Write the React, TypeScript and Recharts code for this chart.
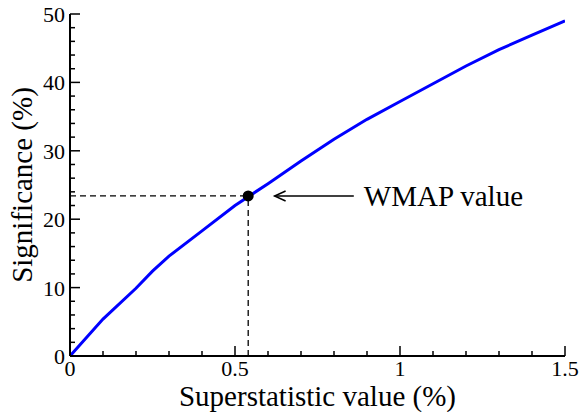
import { LineChart, Line, XAxis, YAxis, ReferenceLine, ReferenceDot } from "recharts"

const superValues = [0, 0.1, 0.2, 0.25, 0.3, 0.4, 0.5, 0.6, 0.7, 0.8, 0.9, 1.0, 1.1, 1.2, 1.3, 1.4, 1.5]
const significance = [0, 5.4, 9.9, 12.4, 14.6, 18.3, 22.0, 25.2, 28.5, 31.7, 34.6, 37.2, 39.8, 42.4, 44.8, 46.9, 49.0]

const xTicks = [0, 0.1, 0.2, 0.3, 0.4, 0.5, 0.6, 0.7, 0.8, 0.9, 1, 1.1, 1.2, 1.3, 1.4, 1.5]
const xMajor = [0, 0.5, 1, 1.5]
const yTicks = [0, 2, 4, 6, 8, 10, 12, 14, 16, 18, 20, 22, 24, 26, 28, 30, 32, 34, 36, 38, 40, 42, 44, 46, 48, 50]
const yMajor = [0, 10, 20, 30, 40, 50]

const wmapX = 0.54
const wmapY = 23.4
const arrowFrom = 0.86
const arrowTo = 0.62
const wmapLabel = "WMAP value"

const data = superValues.map((x, i) => ({ x, y: significance[i] }))

const font = "Liberation Serif, DejaVu Serif, serif"
const isMajor = (list: number[], v: number) => list.some((m) => Math.abs(m - v) < 1e-6)

const BottomTick = (props: any) => {
  const { x, y, payload } = props
  const major = isMajor(xMajor, payload.value)
  return (
    <g>
      <line x1={x} x2={x} y1={y} y2={y - (major ? 10 : 5)} stroke="#000" strokeWidth={1.5} />
      {major && (
        <text x={x} y={y + 20} textAnchor="middle" fontSize={22} style={{ fontFamily: font }} fill="#000">
          {payload.value}
        </text>
      )}
    </g>
  )
}

const TopTick = (props: any) => {
  const { x, y, payload } = props
  const major = isMajor(xMajor, payload.value)
  return <line x1={x} x2={x} y1={y} y2={y + (major ? 10 : 5)} stroke="#000" strokeWidth={1.5} />
}

const LeftTick = (props: any) => {
  const { x, y, payload } = props
  const major = isMajor(yMajor, payload.value)
  return (
    <g>
      <line x1={x} x2={x + (major ? 10 : 5)} y1={y} y2={y} stroke="#000" strokeWidth={1.5} />
      {major && (
        <text x={x - 5} y={y + 8} textAnchor="end" fontSize={22} style={{ fontFamily: font }} fill="#000">
          {payload.value}
        </text>
      )}
    </g>
  )
}

const RightTick = (props: any) => {
  const { x, y, payload } = props
  const major = isMajor(yMajor, payload.value)
  return <line x1={x} x2={x - (major ? 10 : 5)} y1={y} y2={y} stroke="#000" strokeWidth={1.5} />
}

const ArrowShape = (props: any) => {
  const { x1, y1, x2, y2 } = props
  const headX = Math.min(x1, x2)
  const tailX = Math.max(x1, x2)
  return (
    <g>
      <line x1={tailX} y1={y1} x2={headX} y2={y2} stroke="#000" strokeWidth={1.5} />
      <polyline
        points={`${headX + 11},${y1 - 5} ${headX},${y1} ${headX + 11},${y1 + 5}`}
        fill="none"
        stroke="#000"
        strokeWidth={1.5}
      />
      <text x={tailX + 10} y={y1 + 10} fontSize={29} style={{ fontFamily: font }} fill="#000">
        {wmapLabel}
      </text>
    </g>
  )
}

export default function App() {
  return (
    <div style={{ position: "absolute", left: 0, top: 0, background: "#fff", fontFamily: font }}>
      <LineChart
        width={582}
        height={412}
        data={data}
        margin={{ top: 14, right: 17, bottom: 0, left: 0 }}
        style={{ fontFamily: font }}
      >
        <XAxis
          dataKey="x"
          type="number"
          xAxisId="bottom"
          domain={[0, 1.5]}
          ticks={xTicks}
          interval={0}
          tickSize={0}
          tickMargin={0}
          tickLine={false}
          tick={<BottomTick />}
          height={56}
          stroke="#000"
          strokeWidth={2}
          allowDataOverflow
          label={{
            value: "Superstatistic value (%)",
            position: "insideBottom",
            offset: 6,
            fontSize: 29,
            style: { fontFamily: font },
            fill: "#000",
          }}
        />
        <XAxis
          dataKey="x"
          type="number"
          xAxisId="top"
          orientation="top"
          domain={[0, 1.5]}
          ticks={xTicks}
          interval={0}
          tickSize={0}
          tickMargin={0}
          tickLine={false}
          tick={<TopTick />}
          height={0}
          stroke="#000"
          strokeWidth={2}
          allowDataOverflow
        />
        <YAxis
          type="number"
          yAxisId="left"
          domain={[0, 50]}
          ticks={yTicks}
          interval={0}
          tickSize={0}
          tickMargin={0}
          tickLine={false}
          tick={<LeftTick />}
          width={70}
          stroke="#000"
          strokeWidth={2}
          allowDataOverflow
          label={{
            value: "Significance (%)",
            angle: -90,
            position: "center",
            dx: -13,
            fontSize: 29,
            style: { fontFamily: font },
            fill: "#000",
          }}
        />
        <YAxis
          type="number"
          yAxisId="right"
          orientation="right"
          domain={[0, 50]}
          ticks={yTicks}
          interval={0}
          tickSize={0}
          tickMargin={0}
          tickLine={false}
          tick={<RightTick />}
          width={0}
          stroke="#000"
          strokeWidth={2}
          allowDataOverflow
        />
        <ReferenceLine
          xAxisId="bottom"
          yAxisId="left"
          segment={[{ x: 0, y: wmapY }, { x: wmapX, y: wmapY }]}
          stroke="#000"
          strokeWidth={1.3}
          strokeDasharray="6 4"
        />
        <ReferenceLine
          xAxisId="bottom"
          yAxisId="left"
          segment={[{ x: wmapX, y: 0 }, { x: wmapX, y: wmapY }]}
          stroke="#000"
          strokeWidth={1.3}
          strokeDasharray="6 4"
        />
        <Line
          xAxisId="bottom"
          yAxisId="left"
          dataKey="y"
          type="linear"
          stroke="#0000ff"
          strokeWidth={3}
          dot={false}
          isAnimationActive={false}
        />
        <ReferenceDot xAxisId="bottom" yAxisId="left" x={wmapX} y={wmapY} r={5.5} fill="#000" stroke="none" />
        <ReferenceLine
          xAxisId="bottom"
          yAxisId="left"
          segment={[{ x: arrowFrom, y: wmapY }, { x: arrowTo, y: wmapY }]}
          shape={<ArrowShape />}
        />
      </LineChart>
    </div>
  )
}
